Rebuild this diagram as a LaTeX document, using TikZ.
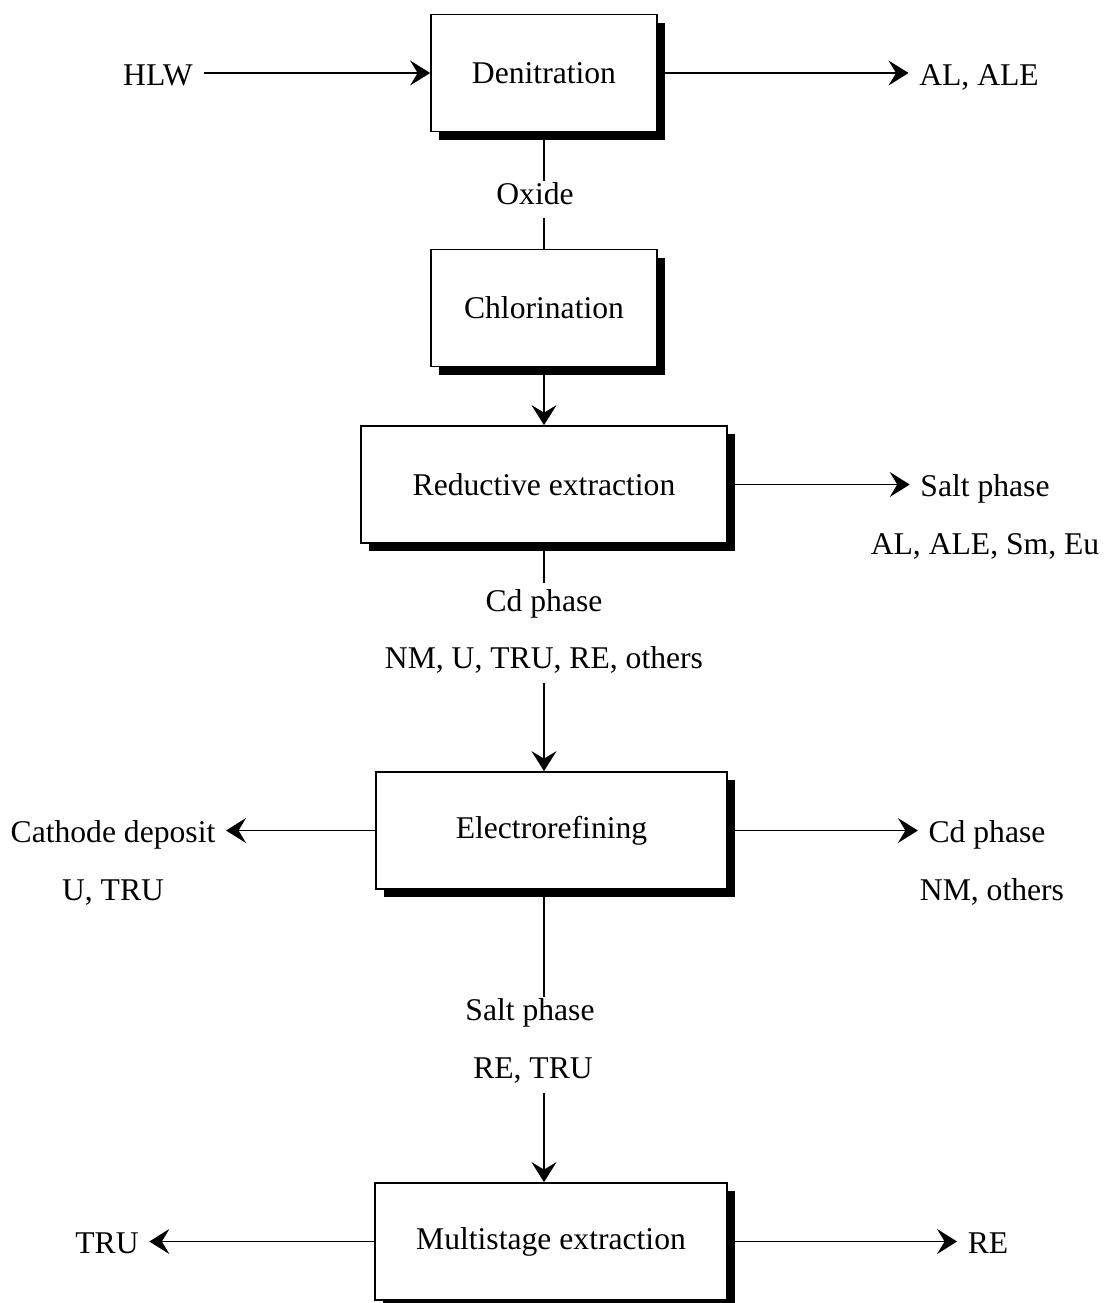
\documentclass[tikz,border=0pt]{standalone}
\usepackage{fontspec}
\setmainfont{Liberation Serif}
\usetikzlibrary{arrows.meta, positioning, shadows}

\begin{document}
\begin{tikzpicture}[on grid, font=\fontsize{18}{22}\selectfont, line width=0.8pt,
    flow/.style={-{Stealth[length=4mm, width=5mm, inset=1.5mm]}},
    process/.style={draw, fill=white, line width=1pt, minimum height=2.34cm,
      drop shadow={shadow xshift=0.15cm, shadow yshift=-0.16cm, fill=black, opacity=1}},
    stream/.style={text height=1.6ex, text depth=0.4ex, inner sep=0.2cm, yshift=-0.15cm}]
        \useasboundingbox (0,0) rectangle (22.12,-26.06);
        % process steps
        \node[process, minimum width=4.52cm] (den) at (10.88,-1.46)  {Denitration};
        \node[process, minimum width=4.52cm] (chl) at (10.88,-6.16)  {Chlorination};
        \node[process, minimum width=7.32cm] (red) at (10.88,-9.69)  {Reductive extraction};
        \node[process, minimum width=7.02cm] (ele) at (11.03,-16.61) {Electrorefining};
        \node[process, minimum width=7.04cm] (mul) at (11.02,-24.83) {Multistage extraction};
        % streams
        \node[stream] (hlw)    [left=7.72cm of den]                 {HLW};
        \node[stream] (al)     [right=8.70cm of den]                {AL, ALE};
        \node[stream] (oxide)  [below=2.38cm of den, xshift=-0.18cm] {Oxide};
        \node[stream] (salt)   [right=8.82cm of red]                {Salt phase};
        \node[stream] (salt_l) [below=1.01cm of salt]               {AL, ALE, Sm, Eu};
        \node[stream] (cd)     [below=2.30cm of red]                {Cd phase};
        \node[stream] (cd_l)   [below=0.99cm of cd]                 {NM, U, TRU, RE, others};
        \node[stream] (cath)   [left=8.77cm of ele]                 {Cathode deposit};
        \node[stream] (cath_l) [below=1.01cm of cath]               {U, TRU};
        \node[stream] (cdr)    [right=8.71cm of ele]                {Cd phase};
        \node[stream] (cdr_l)  [below=1.01cm of cdr, xshift=0.1cm]  {NM, others};
        \node[stream] (salt2)  [below=3.56cm of ele, xshift=-0.43cm] {Salt phase};
        \node[stream] (salt2_l)[below=1.01cm of salt2, xshift=0.06cm] {RE, TRU};
        \node[stream] (tru)    [left=8.88cm of mul]                 {TRU};
        \node[stream] (re)     [right=8.74cm of mul]                {RE};
        \path[flow]
          (hlw.east |- den) edge (den)
          (den) edge (al.west |- den)
          (chl) edge (red)
          (red) edge (salt.west |- red)
          (ele) edge (cath.east |- ele)
                edge (cdr.west |- ele)
          (mul) edge (tru.east |- mul)
                edge (re.west |- mul);
        \draw (den.south) -- (den.south |- oxide.north);
        \draw (oxide.south -| chl) -- (chl.north);
        \draw (red.south) -- ([yshift=0.1cm]red.south |- cd.north);
        \draw[flow] (cd_l.south -| red) -- (red |- ele.north);
        \draw (ele.south -| red) -- (red |- salt2.north);
        \draw[flow] (salt2_l.south -| red) -- (red |- mul.north);
      \end{tikzpicture}
\end{document}
